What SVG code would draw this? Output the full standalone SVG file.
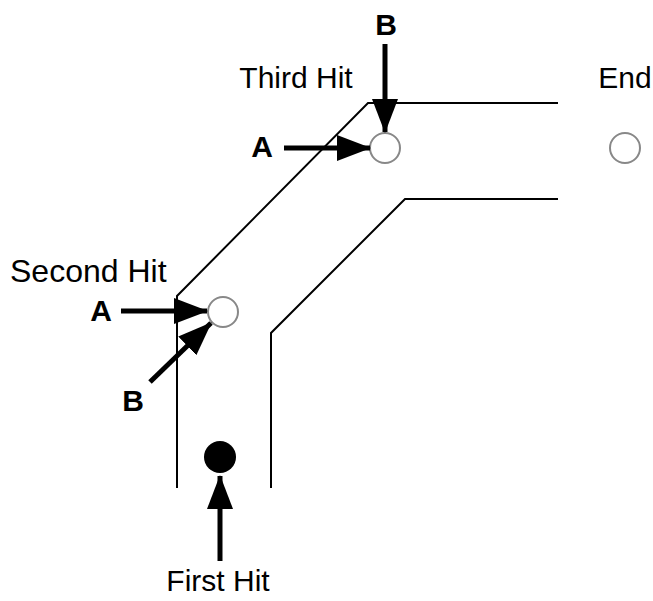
<svg xmlns="http://www.w3.org/2000/svg" width="653" height="601" viewBox="0 0 653 601">
<defs>
<style>
.wall{fill:none;stroke:#000;stroke-width:2}
.hit{fill:#fff;stroke:#888;stroke-width:2}
.arr{fill:none;stroke:#000;stroke-width:5}
.lbl{font-family:"Liberation Sans",Arial,sans-serif;font-size:30px;fill:#000}
.bl{font-family:"Liberation Sans",Arial,sans-serif;font-size:30px;font-weight:bold;fill:#000}
</style>
<marker id="ah" markerUnits="userSpaceOnUse" markerWidth="34" markerHeight="26" refX="33" refY="13" orient="auto">
<path d="M0,0 L34,13 L0,26 Z" fill="#000"/>
</marker>
</defs>
<rect width="653" height="601" fill="#fff"/>
<g id="walls">
<polyline class="wall" points="177,488 177,296 368,103 558,103"/>
<polyline class="wall" points="271,488 271,333 405,199 558,199"/>
</g>
<g id="first-hit"><circle cx="220" cy="457" r="16" fill="#000"/><text class="lbl" x="218" y="591" text-anchor="middle">First Hit</text></g>
<g id="second-hit"><circle class="hit" cx="223" cy="312" r="15"/><text class="lbl" x="10" y="282" style="font-size:32px">Second Hit</text></g>
<g id="third-hit"><circle class="hit" cx="385" cy="148" r="15"/><text class="lbl" x="296" y="88" text-anchor="middle">Third Hit</text></g>
<g id="end"><circle class="hit" cx="625" cy="148" r="15"/><text class="lbl" x="625" y="88" text-anchor="middle">End</text></g>
<g id="connectors">
<line class="arr" x1="220" y1="561" x2="220" y2="476" marker-end="url(#ah)"/>
<line class="arr" x1="121" y1="311" x2="207" y2="311" marker-end="url(#ah)"/>
<line class="arr" x1="150" y1="382" x2="211" y2="323" marker-end="url(#ah)"/>
<line class="arr" x1="284" y1="148" x2="370" y2="148" marker-end="url(#ah)"/>
<line class="arr" x1="385" y1="44" x2="385" y2="132" marker-end="url(#ah)"/>
</g>
<g id="labels">
<text class="bl" x="101" y="321" text-anchor="middle">A</text>
<text class="bl" x="133" y="411" text-anchor="middle">B</text>
<text class="bl" x="262" y="157" text-anchor="middle">A</text>
<text class="bl" x="386" y="35" text-anchor="middle">B</text>
</g>
</svg>
